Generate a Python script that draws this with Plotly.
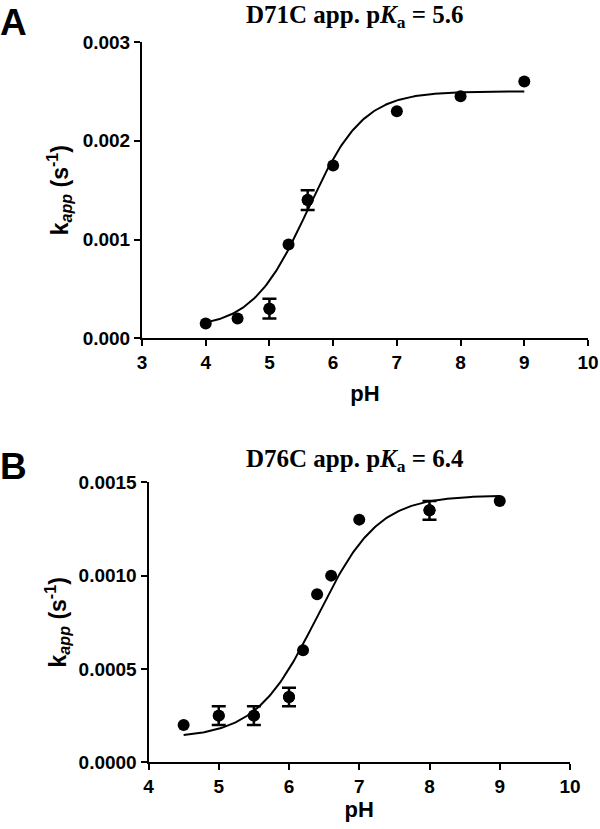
import numpy as np
import plotly.graph_objects as go

# ---- Panel A data (D71C) ----
ph_a = [4.0, 4.5, 5.0, 5.3, 5.6, 6.0, 7.0, 8.0, 9.0]
k_a = [0.00015, 0.0002, 0.0003, 0.00095, 0.0014, 0.00175, 0.0023, 0.00245, 0.0026]
err_a = [0, 0, 0.0001, 0, 0.0001, 0, 0, 0, 0]
fit_a_pka = 5.6
fit_a_low = 0.0001
fit_a_high = 0.0025

# ---- Panel B data (D76C) ----
ph_b = [4.5, 5.0, 5.5, 6.0, 6.2, 6.4, 6.6, 7.0, 8.0, 9.0]
k_b = [0.0002, 0.00025, 0.00025, 0.00035, 0.0006, 0.0009, 0.001, 0.0013, 0.00135, 0.0014]
err_b = [0, 0.00005, 0.00005, 0.00005, 0, 0, 0, 0, 0.00005, 0]
fit_b_pka = 6.4
fit_b_low = 0.00013
fit_b_high = 0.00143

def hh(ph, pka, low, high):
    ph = np.asarray(ph)
    return low + (high - low) / (1 + 10 ** (pka - ph))

fa_x = np.linspace(4, 9, 200)
fb_x = np.linspace(4.5, 9, 200)

fig = go.Figure()

def add_panel(xs, ys, errs, fx, fy, xa, ya):
    fig.add_trace(go.Scatter(x=fx, y=fy, mode="lines", line=dict(color="black", width=2),
                             xaxis=xa, yaxis=ya, showlegend=False))
    idx = [i for i, e in enumerate(errs) if e > 0]
    fig.add_trace(go.Scatter(x=[xs[i] for i in idx], y=[ys[i] for i in idx], mode="markers",
                             marker=dict(color="black", size=12),
                             error_y=dict(type="data", array=[errs[i] for i in idx], color="black",
                                          thickness=2.5, width=7),
                             xaxis=xa, yaxis=ya, showlegend=False, cliponaxis=False))
    fig.add_trace(go.Scatter(x=xs, y=ys, mode="markers", marker=dict(color="black", size=12),
                             xaxis=xa, yaxis=ya, showlegend=False, cliponaxis=False))

add_panel(ph_a, k_a, err_a, fa_x, hh(fa_x, fit_a_pka, fit_a_low, fit_a_high), "x", "y")
add_panel(ph_b, k_b, err_b, fb_x, hh(fb_x, fit_b_pka, fit_b_low, fit_b_high), "x2", "y2")

W, H = 600, 829
def px_x(p): return p / W
def px_y(p): return 1 - p / H

tickfont = dict(family="Liberation Sans, Arial", size=19, color="black", weight="bold")
axfont = dict(family="Liberation Sans, Arial", size=22, color="black", weight="bold")
yaxfont = dict(family="Liberation Sans, Arial", size=23, color="black", weight="bold")
common = dict(showline=True, linecolor="black", linewidth=2, ticks="outside", ticklen=6,
              tickwidth=2, tickcolor="black", showgrid=False, zeroline=False, tickfont=tickfont,
              automargin=False)
ytitle = "k<sub><i>app</i></sub> (s<sup>-1</sup>)"

fig.update_layout(
    template="none",
    width=W, height=H, margin=dict(l=0, r=0, t=0, b=0, pad=0),
    plot_bgcolor="white", paper_bgcolor="white", hovermode=False,
    xaxis=dict(domain=[px_x(142), px_x(588)], range=[3, 10], tickvals=[3, 4, 5, 6, 7, 8, 9, 10],
               anchor="y", title=dict(text="pH", font=axfont, standoff=14), **common),
    yaxis=dict(domain=[px_y(338.3), px_y(42)], range=[0, 0.003], tickvals=[0, 0.001, 0.002, 0.003],
               tickformat=".3f", anchor="x",
               title=dict(text=ytitle, font=yaxfont, standoff=8), **common),
    xaxis2=dict(domain=[px_x(148.5), px_x(570)], range=[4, 10], tickvals=[4, 5, 6, 7, 8, 9, 10],
                anchor="y2", title=dict(text="pH", font=axfont, standoff=4), **common),
    yaxis2=dict(domain=[px_y(762.3), px_y(482.3)], range=[0, 0.0015], tickvals=[0, 0.0005, 0.001, 0.0015],
                tickformat=".4f", anchor="x2",
                title=dict(text=ytitle, font=yaxfont, standoff=6), **common),
)

titlefont = dict(family="Liberation Serif, Times New Roman", size=25, color="black", weight="bold")
fig.add_annotation(text="D71C app. p<i>K</i><sub>a</sub> = 5.6", x=px_x(355), y=px_y(16),
                   xref="paper", yref="paper", showarrow=False, font=titlefont, xanchor="center", yanchor="middle")
fig.add_annotation(text="D76C app. p<i>K</i><sub>a</sub> = 6.4", x=px_x(355), y=px_y(460),
                   xref="paper", yref="paper", showarrow=False, font=titlefont, xanchor="center", yanchor="middle")
panelfont = dict(family="Liberation Sans, Arial", size=37, color="black", weight="bold")
fig.add_annotation(text="A", x=0, y=px_y(22), xref="paper", yref="paper", showarrow=False,
                   font=panelfont, xanchor="left", yanchor="middle", xshift=-2)
fig.add_annotation(text="B", x=0, y=px_y(466), xref="paper", yref="paper", showarrow=False,
                   font=panelfont, xanchor="left", yanchor="middle", xshift=-2)

fig.write_html("out.html", config={"displayModeBar": False},
               post_script="document.body.style.margin='0';document.body.style.overflow='hidden';")
